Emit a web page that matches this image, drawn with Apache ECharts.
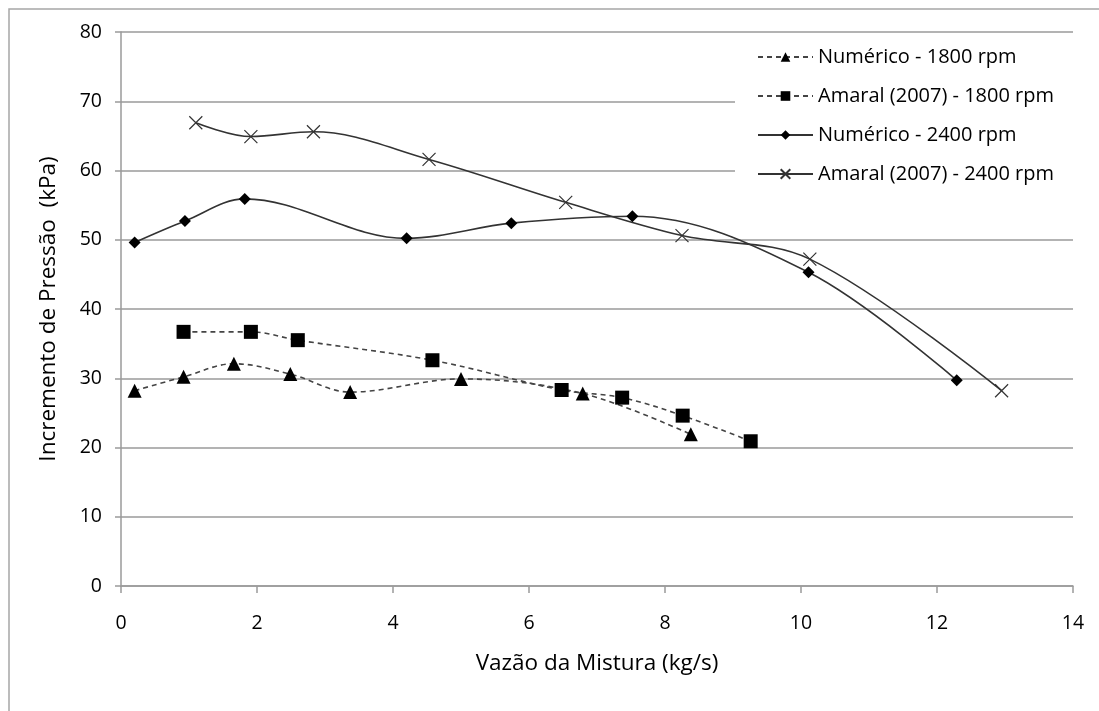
<!DOCTYPE html>
<html>
<head>
<meta charset="utf-8">
<script src="https://cdn.jsdelivr.net/npm/echarts@6/dist/echarts.min.js"></script>
<style>
  html, body { margin: 0; padding: 0; background: #fff; }
  #chart { width: 1099px; height: 711px; }
</style>
</head>
<body>
<div id="chart"></div>
<script>
// Pressure rise vs. mixture flow rate, two rotation speeds
var numerico1800X = [0.20, 0.92, 1.66, 2.49, 3.37, 5.00, 6.79, 8.38];
var numerico1800Y = [28.2, 30.2, 32.1, 30.6, 28.0, 29.9, 27.8, 21.9];

var amaral1800X = [0.92, 1.91, 2.60, 4.58, 6.48, 7.37, 8.26, 9.26];
var amaral1800Y = [36.7, 36.7, 35.5, 32.6, 28.3, 27.2, 24.6, 20.9];

var numerico2400X = [0.20, 0.94, 1.82, 4.20, 5.74, 7.52, 10.11, 12.29];
var numerico2400Y = [49.6, 52.7, 55.9, 50.2, 52.4, 53.4, 45.3, 29.7];

var amaral2400X = [1.10, 1.91, 2.83, 4.53, 6.54, 8.25, 10.13, 12.95];
var amaral2400Y = [66.9, 64.9, 65.6, 61.6, 55.4, 50.6, 47.2, 28.2];

var seriesNames = [
  'Numérico - 1800 rpm',
  'Amaral (2007) - 1800 rpm',
  'Numérico - 2400 rpm',
  'Amaral (2007) - 2400 rpm'
];

function pairs(xs, ys) {
  return xs.map(function (x, i) { return [x, ys[i]]; });
}

var FONT = '"Open Sans", Lato, sans-serif';
var crossPath = 'path://M0,0L10,10M10,0L0,10';

var chart = echarts.init(document.getElementById('chart'), null, { renderer: 'canvas' });

chart.setOption({
  backgroundColor: '#fff',
  animation: false,
  graphic: [{
    type: 'rect',
    z: -1,
    shape: { x: 9, y: 9, width: 1200, height: 800 },
    style: { fill: 'none', stroke: '#a6a6a6', lineWidth: 1.5 }
  }],
  grid: { left: 121, right: 26, top: 32, bottom: 125 },
  legend: {
    orient: 'vertical',
    left: 735,
    top: 39,
    padding: [6, 30, 12, 22],
    backgroundColor: '#fff',
    itemWidth: 55,
    itemHeight: 12,
    itemGap: 15,
    data: seriesNames,
    textStyle: { fontFamily: FONT, fontSize: 20, color: '#000', lineHeight: 24 }
  },
  xAxis: {
    type: 'value',
    min: 0, max: 14, interval: 2,
    name: 'Vazão da Mistura (kg/s)',
    nameLocation: 'middle',
    nameGap: 66,
    nameTextStyle: { fontFamily: FONT, fontSize: 22.5, color: '#000' },
    axisLine: { show: true, lineStyle: { color: '#9a9a9a', width: 1.5 } },
    axisTick: { show: true, length: 7, lineStyle: { color: '#9a9a9a', width: 1.5 } },
    axisLabel: { fontFamily: FONT, fontSize: 19.5, color: '#000', margin: 27 },
    splitLine: { show: false }
  },
  yAxis: {
    type: 'value',
    min: 0, max: 80, interval: 10,
    name: 'Incremento de Pressão  (kPa)',
    nameLocation: 'middle',
    nameGap: 61,
    nameTextStyle: { fontFamily: FONT, fontSize: 22.5, color: '#000' },
    axisLine: { show: true, lineStyle: { color: '#9a9a9a', width: 1.5 } },
    axisTick: { show: true, length: 6, lineStyle: { color: '#9a9a9a', width: 1.5 } },
    axisLabel: { fontFamily: FONT, fontSize: 19.5, color: '#000', margin: 19 },
    splitLine: { show: true, lineStyle: { color: '#9a9a9a', width: 1.5 } }
  },
  series: [
    {
      name: seriesNames[0],
      type: 'line',
      smooth: 0.35,
      data: pairs(numerico1800X, numerico1800Y),
      symbol: 'triangle',
      symbolSize: 14,
      itemStyle: { color: '#000' },
      lineStyle: { color: '#444', width: 1.6, type: [5, 4] }
    },
    {
      name: seriesNames[1],
      type: 'line',
      smooth: 0.35,
      data: pairs(amaral1800X, amaral1800Y),
      symbol: 'rect',
      symbolSize: 14,
      itemStyle: { color: '#000' },
      lineStyle: { color: '#444', width: 1.6, type: [5, 4] }
    },
    {
      name: seriesNames[2],
      type: 'line',
      smooth: 0.35,
      data: pairs(numerico2400X, numerico2400Y),
      symbol: 'diamond',
      symbolSize: 12,
      itemStyle: { color: '#000' },
      lineStyle: { color: '#333', width: 1.6 }
    },
    {
      name: seriesNames[3],
      type: 'line',
      smooth: 0.35,
      data: pairs(amaral2400X, amaral2400Y),
      symbol: crossPath,
      symbolSize: 13,
      itemStyle: { color: '#333', borderColor: '#333', borderWidth: 1.2 },
      lineStyle: { color: '#333', width: 1.6 }
    }
  ]
});
</script>
</body>
</html>
